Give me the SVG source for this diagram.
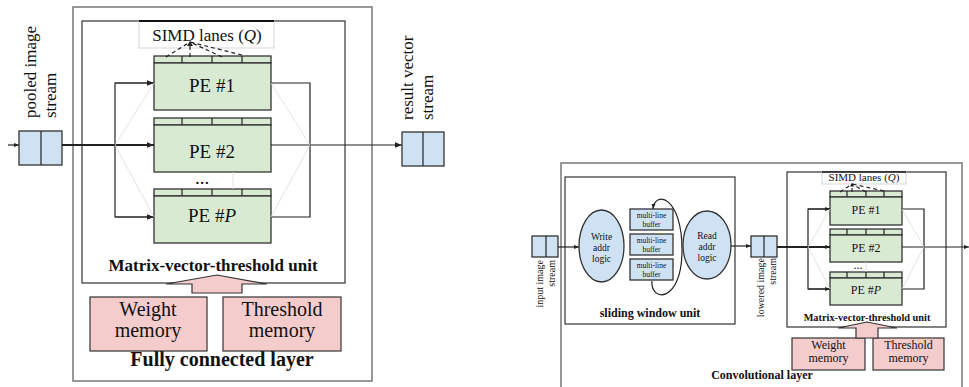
<svg xmlns="http://www.w3.org/2000/svg" width="969" height="387" viewBox="0 0 969 387">
<defs>
<marker id="ah" viewBox="0 0 10 10" refX="10" refY="5" markerWidth="7" markerHeight="7" markerUnits="userSpaceOnUse" orient="auto"><path d="M0,1 L10,5 L0,9 z" fill="#222"/></marker>
<marker id="ahs" viewBox="0 0 10 10" refX="10" refY="5" markerWidth="5" markerHeight="5" markerUnits="userSpaceOnUse" orient="auto"><path d="M0,1 L10,5 L0,9 z" fill="#222"/></marker>
<style>
.outer{fill:#fff;stroke:#777;stroke-width:1.5}
.box{fill:#fff;stroke:#333;stroke-width:1.2}
.lbl{fill:#fff;stroke:#ccc;stroke-width:0.8}
.pe{fill:#d9ead3;stroke:#333;stroke-width:1.3}
.blue{fill:#cfe2f3;stroke:#333;stroke-width:1.3}
.pink{fill:#f4cccc;stroke:#333;stroke-width:1.2}
.ln{fill:none;stroke:#222;stroke-width:1.2}
.thick{fill:none;stroke:#222;stroke-width:2}
.faint{fill:none;stroke:#ddd;stroke-width:0.8}
.dash{fill:none;stroke:#222;stroke-width:1.2;stroke-dasharray:4 3}
text{font-family:"Liberation Serif","Times New Roman",serif;fill:#111}
.b{font-weight:bold}
.c{text-anchor:middle}
</style>
</defs>

<!-- ================= LEFT: Fully connected layer ================= -->
<g id="fc-layer">
<rect class="outer" x="73" y="7" width="299" height="374"/>
<text class="b c" x="222" y="366" font-size="20">Fully connected layer</text>
</g>
<g id="fc-mvtu">
<rect class="box" x="82" y="21" width="263" height="262"/>
<text class="b c" x="213" y="271" font-size="17">Matrix-vector-threshold unit</text>
</g>
<g id="fc-simd-label">
<rect class="lbl" x="139" y="21" width="135" height="27"/>
<line x1="139" y1="21" x2="274" y2="21" stroke="#111" stroke-width="2"/>
<text class="c" x="207" y="41" font-size="17">SIMD lanes (<tspan font-style="italic">Q</tspan>)</text>
</g>
<g id="fc-pe1">
<rect class="pe" x="154" y="56" width="117" height="7"/>
<path class="ln" d="M182,56V63M212,56V63M242,56V63"/>
<rect class="pe" x="154" y="63" width="117" height="47"/>
<text class="c" x="212" y="92" font-size="19">PE #1</text>
</g>
<g id="fc-pe2">
<rect class="pe" x="154" y="118" width="117" height="7"/>
<path class="ln" d="M182,118V125M212,118V125M242,118V125"/>
<rect class="pe" x="154" y="125" width="117" height="47"/>
<text class="c" x="212" y="158" font-size="19">PE #2</text>
</g>
<text class="c" x="202" y="184" font-size="19">...</text>
<g id="fc-pep">
<rect class="pe" x="154" y="189" width="117" height="7"/>
<path class="ln" d="M182,189V196M212,189V196M242,189V196"/>
<rect class="pe" x="154" y="196" width="117" height="47"/>
<text class="c" x="212" y="222" font-size="19">PE #<tspan font-style="italic">P</tspan></text>
</g>
<g id="fc-in-stream">
<rect class="blue" x="19" y="131" width="43" height="34"/>
<line class="ln" x1="41" y1="131" x2="41" y2="165"/>
<text font-size="17" transform="translate(36,118) rotate(-90)">pooled image</text>
<text font-size="17" transform="translate(56,118) rotate(-90)">stream</text>
</g>
<g id="fc-out-stream">
<rect class="blue" x="402" y="132" width="42" height="34"/>
<line class="ln" x1="423" y1="132" x2="423" y2="166"/>
<text font-size="17" transform="translate(413,120) rotate(-90)">result vector</text>
<text font-size="17" transform="translate(433,120) rotate(-90)">stream</text>
</g>
<g id="fc-weight">
<rect class="pink" x="90" y="297" width="117" height="54"/>
<text class="c" x="148" y="316" font-size="20">Weight</text>
<text class="c" x="148" y="337" font-size="20">memory</text>
</g>
<g id="fc-threshold">
<rect class="pink" x="223" y="297" width="118" height="54"/>
<text class="c" x="282" y="316" font-size="20">Threshold</text>
<text class="c" x="282" y="337" font-size="20">memory</text>
</g>

<!-- ================= RIGHT: Convolutional layer ================= -->
<g id="conv-layer">
<rect class="outer" x="561" y="163" width="401" height="230"/>
<text class="b c" x="762" y="379" font-size="12">Convolutional layer</text>
</g>
<g id="swu">
<rect class="box" x="565" y="177" width="170" height="147"/>
<text class="b c" x="650" y="317" font-size="12">sliding window unit</text>
</g>
<g id="write-logic">
<ellipse class="blue" cx="601.5" cy="246" rx="22.5" ry="36"/>
<text class="c" x="601.5" y="240" font-size="9.5">Write</text>
<text class="c" x="601.5" y="251" font-size="9.5">addr</text>
<text class="c" x="601.5" y="262" font-size="9.5">logic</text>
</g>
<g id="read-logic">
<ellipse class="blue" cx="707" cy="245" rx="24" ry="34"/>
<text class="c" x="707" y="239" font-size="9.5">Read</text>
<text class="c" x="707" y="250" font-size="9.5">addr</text>
<text class="c" x="707" y="261" font-size="9.5">logic</text>
</g>
<g id="buffer1">
<rect class="blue" x="630" y="209" width="43" height="21"/>
<text class="c" x="651.5" y="218" font-size="7.5">multi-line</text>
<text class="c" x="651.5" y="227" font-size="7.5">buffer</text>
</g>
<g id="buffer2">
<rect class="blue" x="630" y="234" width="43" height="21"/>
<text class="c" x="651.5" y="243" font-size="7.5">multi-line</text>
<text class="c" x="651.5" y="252" font-size="7.5">buffer</text>
</g>
<g id="buffer3">
<rect class="blue" x="630" y="259" width="43" height="21"/>
<text class="c" x="651.5" y="268" font-size="7.5">multi-line</text>
<text class="c" x="651.5" y="277" font-size="7.5">buffer</text>
</g>
<g id="in-image-stream">
<rect class="blue" x="532" y="236" width="26" height="21"/>
<line class="ln" x1="546" y1="236" x2="546" y2="257"/>
<text font-size="10" text-anchor="end" transform="translate(543,260) rotate(-90)">input image</text>
<text font-size="10" text-anchor="end" transform="translate(555,260) rotate(-90)">stream</text>
</g>
<g id="lowered-stream">
<rect class="blue" x="751" y="236" width="26" height="21"/>
<line class="ln" x1="764" y1="236" x2="764" y2="257"/>
<text font-size="10" text-anchor="end" transform="translate(764,258) rotate(-90)">lowered image</text>
<text font-size="10" text-anchor="end" transform="translate(776,258) rotate(-90)">stream</text>
</g>
<g id="cv-mvtu">
<rect class="box" x="787" y="172" width="159" height="155"/>
<text class="b c" x="867" y="321" font-size="10.3">Matrix-vector-threshold unit</text>
</g>
<g id="cv-simd-label">
<rect class="lbl" x="822" y="172" width="84" height="12"/>
<line x1="822" y1="172" x2="906" y2="172" stroke="#111" stroke-width="1.6"/>
<text class="c" x="864" y="181" font-size="11">SIMD lanes (<tspan font-style="italic">Q</tspan>)</text>
</g>
<g id="cv-pe1">
<rect class="pe" x="830" y="191" width="72" height="6"/>
<path class="ln" d="M847,191V197M866,191V197M884,191V197"/>
<rect class="pe" x="830" y="197" width="72" height="28"/>
<text class="c" x="866" y="214" font-size="12">PE #1</text>
</g>
<g id="cv-pe2">
<rect class="pe" x="830" y="229" width="72" height="6"/>
<path class="ln" d="M847,229V235M866,229V235M884,229V235"/>
<rect class="pe" x="830" y="235" width="72" height="27"/>
<text class="c" x="866" y="252" font-size="12">PE #2</text>
</g>
<text class="c" x="858" y="269" font-size="12">...</text>
<g id="cv-pep">
<rect class="pe" x="830" y="272" width="72" height="6"/>
<path class="ln" d="M847,272V278M866,272V278M884,272V278"/>
<rect class="pe" x="830" y="278" width="72" height="27"/>
<text class="c" x="866" y="294" font-size="12">PE #<tspan font-style="italic">P</tspan></text>
</g>
<g id="cv-weight">
<rect class="pink" x="792" y="338" width="73" height="32"/>
<text class="c" x="828.5" y="349" font-size="12">Weight</text>
<text class="c" x="828.5" y="362" font-size="12">memory</text>
</g>
<g id="cv-threshold">
<rect class="pink" x="873" y="338" width="71" height="32"/>
<text class="c" x="908.5" y="349" font-size="12">Threshold</text>
<text class="c" x="908.5" y="362" font-size="12">memory</text>
</g>

<!-- ================= connectors ================= -->
<g id="connectors">
<!-- left -->
<line class="ln" x1="8" y1="145" x2="19" y2="145" marker-end="url(#ahs)"/>
<line class="thick" x1="62" y1="145" x2="154" y2="145" marker-end="url(#ah)"/>
<path class="ln" d="M154,83H115V217H154" />
<line class="ln" x1="115" y1="83" x2="154" y2="83" marker-end="url(#ah)"/>
<line class="ln" x1="115" y1="217" x2="154" y2="217" marker-end="url(#ah)"/>
<path class="ln" d="M271,83H310V217H271"/>
<line class="ln" x1="271" y1="145" x2="402" y2="145" marker-end="url(#ah)"/>
<path class="faint" d="M115,145L154,83M115,145L154,217M271,83L310,145L271,217M233,172V189"/>
<path class="dash" d="M166,57L190,42M190,57V42M222,57L190,42M242,55L190,42"/>
<path d="M190,41l-3,5h6z" fill="#222"/>
<polygon class="pink" points="192,293 192,284 166,284 217,275 267,284 242,284 242,293"/>
<!-- right -->
<line class="ln" x1="558" y1="247" x2="579" y2="247" marker-end="url(#ahs)"/>
<line class="ln" x1="731" y1="246" x2="751" y2="246" marker-end="url(#ahs)"/>
<path class="ln" d="M652,281C650,302 682,304 682,250C682,196 655,190 653,209" marker-end="url(#ahs)"/>
<line class="thick" x1="777" y1="247" x2="830" y2="247" stroke-width="1.6" marker-end="url(#ahs)"/>
<path class="ln" d="M830,209H808V289H830"/>
<line class="ln" x1="808" y1="209" x2="830" y2="209" marker-end="url(#ahs)"/>
<line class="ln" x1="808" y1="289" x2="830" y2="289" marker-end="url(#ahs)"/>
<path class="ln" d="M902,209H924V289H902"/>
<line class="ln" x1="902" y1="247" x2="969" y2="247" marker-end="url(#ahs)"/>
<path class="faint" d="M808,247L830,209M808,247L830,289M902,209L924,247L902,289M866,262V272"/>
<path class="dash" stroke-width="0.9" stroke-dasharray="2.5 2" d="M840,192L852,184M852,192V184M866,192L852,184M884,191L852,184"/>
<path d="M852,183l-2,3.5h4z" fill="#222"/>
<polygon class="pink" points="856,338 856,328 838,328 867,322 897,328 878,328 878,338"/>
</g>
</svg>
